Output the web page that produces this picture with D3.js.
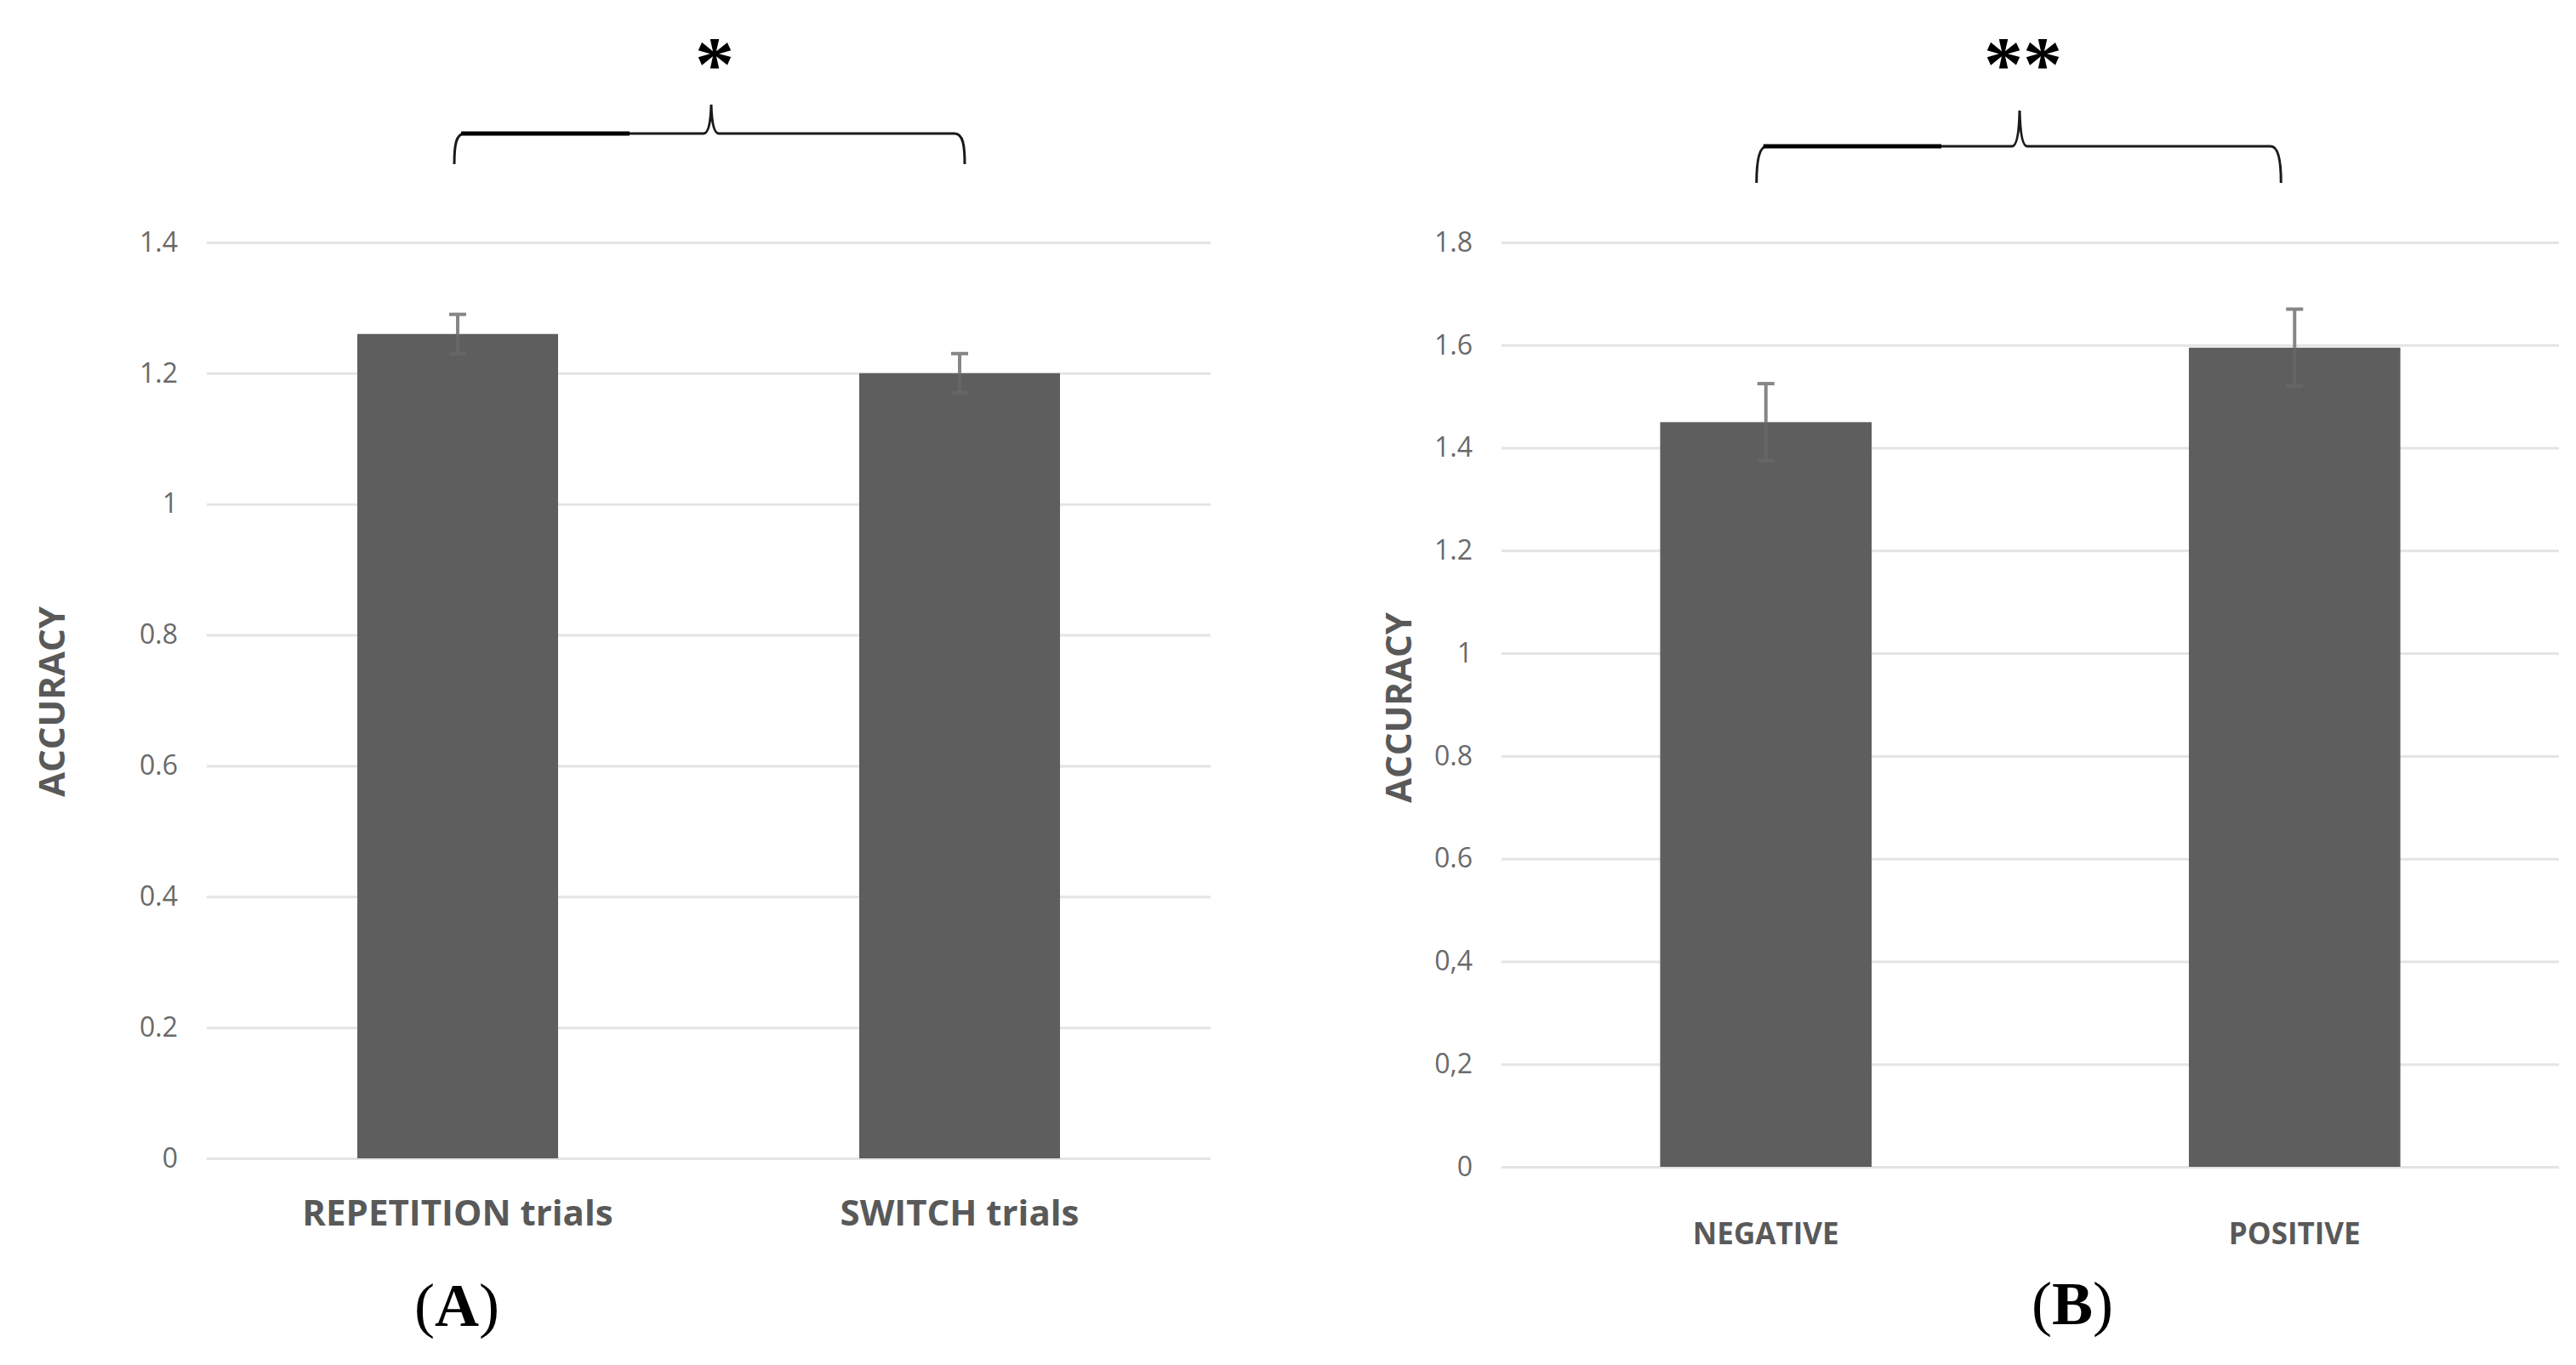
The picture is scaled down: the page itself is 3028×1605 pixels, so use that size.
<!DOCTYPE html>
<html>
<head>
<meta charset="utf-8">
<script src="https://cdn.jsdelivr.net/npm/d3@7/dist/d3.min.js"></script>
<style>
  html, body { margin: 0; padding: 0; background: #ffffff; }
  svg { display: block; }
</style>
</head>
<body>
<script>
// ---------------- data ----------------
const categoriesA = ["REPETITION trials", "SWITCH trials"];
const valuesA = [1.26, 1.20];
const errorsA = [0.03, 0.03];
const ticksA = [0, 0.2, 0.4, 0.6, 0.8, 1, 1.2, 1.4];
const tickLabelsA = ["0", "0.2", "0.4", "0.6", "0.8", "1", "1.2", "1.4"];

const categoriesB = ["NEGATIVE", "POSITIVE"];
const valuesB = [1.45, 1.595];
const errorsB = [0.075, 0.075];
const ticksB = [0, 0.2, 0.4, 0.6, 0.8, 1, 1.2, 1.4, 1.6, 1.8];
const tickLabelsB = ["0", "0,2", "0,4", "0.6", "0.8", "1", "1.2", "1.4", "1.6", "1.8"];

const yTitle = "ACCURACY";
const panelLetters = ["A", "B"];
const significance = ["*", "**"];

// ---------------- layout ----------------
const W = 3028, H = 1605;
const svg = d3.select("body").append("svg").attr("width", W).attr("height", H)
  .attr("viewBox", `0 0 ${W} ${H}`);
svg.append("rect").attr("width", W).attr("height", H).attr("fill", "#ffffff");

const panels = [
  { cats: categoriesA, vals: valuesA, errs: errorsA, ticks: ticksA, labels: tickLabelsA,
    x0: 243, x1: 1423, yBottom: 1362, yTop: 285, yMax: 1.4,
    catFont: 42, catBase: 1441, titleX: 59, titleY: 825,
    letter: panelLetters[0], letterX: 537, letterY: 1559,
    sig: significance[0], sigX: 840,
    brace: { l: -4, r: 6, mid: 836, line: 157, end: 193, tip: 123, thick: 740 } },
  { cats: categoriesB, vals: valuesB, errs: errorsB, ticks: ticksB, labels: tickLabelsB,
    x0: 1765, x1: 3008, yBottom: 1372, yTop: 285, yMax: 1.8,
    catFont: 35, catBase: 1463, titleX: 1642, titleY: 832,
    letter: panelLetters[1], letterX: 2436, letterY: 1557,
    sig: significance[1], sigX: 2378,
    brace: { l: -11, r: -16, mid: 2374, line: 172, end: 215, tip: 130, thick: 2282 } }
];

panels.forEach(p => {
  const g = svg.append("g");
  const x = d3.scaleBand().domain(p.cats).range([p.x0, p.x1]).paddingInner(0.6).paddingOuter(0.3);
  const y = d3.scaleLinear().domain([0, p.yMax]).range([p.yBottom, p.yTop]);

  // gridlines + tick labels
  const axis = d3.axisLeft(y).tickValues(p.ticks)
    .tickFormat((d, i) => p.labels[i])
    .tickSize(-(p.x1 - p.x0)).tickPadding(34);
  const ag = g.append("g").attr("transform", `translate(${p.x0},0)`).call(axis);
  ag.select(".domain").remove();
  ag.selectAll(".tick line").attr("stroke", "#e4e4e4").attr("stroke-width", 3);
  ag.selectAll(".tick text")
    .attr("fill", "#6a6a6a")
    .style("font-family", "'Open Sans', sans-serif")
    .style("font-size", "32px");

  // bars
  g.selectAll("rect.bar").data(p.cats).enter().append("rect")
    .attr("class", "bar")
    .attr("x", d => x(d))
    .attr("width", x.bandwidth())
    .attr("y", (d, i) => y(p.vals[i]))
    .attr("height", (d, i) => y(0) - y(p.vals[i]))
    .attr("fill", "#5e5e5e");

  // error bars
  const eb = g.selectAll("g.err").data(p.cats).enter().append("g").attr("class", "err")
    .attr("stroke-width", 4);
  const cx = d => x(d) + x.bandwidth() / 2;
  // upper half (above bar top)
  eb.append("line")
    .attr("stroke", "#868686")
    .attr("x1", cx).attr("x2", cx)
    .attr("y1", (d, i) => y(p.vals[i] + p.errs[i]))
    .attr("y2", (d, i) => y(p.vals[i]));
  eb.append("line")
    .attr("stroke", "#868686")
    .attr("x1", d => cx(d) - 10).attr("x2", d => cx(d) + 10)
    .attr("y1", (d, i) => y(p.vals[i] + p.errs[i]))
    .attr("y2", (d, i) => y(p.vals[i] + p.errs[i]));
  // lower half (inside the bar, nearly hidden)
  eb.append("line")
    .attr("stroke", "#666666")
    .attr("x1", cx).attr("x2", cx)
    .attr("y1", (d, i) => y(p.vals[i]))
    .attr("y2", (d, i) => y(p.vals[i] - p.errs[i]));
  eb.append("line")
    .attr("stroke", "#666666")
    .attr("x1", d => cx(d) - 10).attr("x2", d => cx(d) + 10)
    .attr("y1", (d, i) => y(p.vals[i] - p.errs[i]))
    .attr("y2", (d, i) => y(p.vals[i] - p.errs[i]));

  // category labels
  g.selectAll("text.cat").data(p.cats).enter().append("text")
    .attr("class", "cat")
    .attr("x", cx)
    .attr("y", p.catBase)
    .attr("text-anchor", "middle")
    .attr("fill", "#595959")
    .style("font-family", "'Open Sans', sans-serif")
    .style("font-weight", "700")
    .style("font-size", p.catFont + "px")
    .text(d => d);

  // y title
  g.append("text")
    .attr("transform", `translate(${p.titleX},${p.titleY}) rotate(-90)`)
    .attr("text-anchor", "middle")
    .attr("dominant-baseline", "central")
    .attr("fill", "#595959")
    .style("font-family", "'Open Sans', sans-serif")
    .style("font-weight", "700")
    .style("font-size", "42px")
    .text(yTitle);

  // panel letter
  const lt = g.append("text")
    .attr("x", p.letterX).attr("y", p.letterY)
    .attr("text-anchor", "middle")
    .attr("fill", "#000")
    .style("font-family", "'Liberation Serif', 'Times New Roman', serif")
    .style("font-size", "72px");
  lt.append("tspan").text("(");
  lt.append("tspan").style("font-weight", "700").text(p.letter);
  lt.append("tspan").text(")");

  // brace annotation
  const b = p.brace;
  const xl = cx(p.cats[0]) + b.l, xr = cx(p.cats[1]) + b.r, xm = b.mid;
  const path = `M${xl},${b.end} C${xl},${b.end - 22} ${xl + 2},${b.line} ${xl + 12},${b.line}
    L${xm - 9},${b.line} Q${xm - 1},${b.line} ${xm},${b.tip} Q${xm + 1},${b.line} ${xm + 9},${b.line}
    L${xr - 12},${b.line} C${xr - 2},${b.line} ${xr},${b.end - 22} ${xr},${b.end}`;
  g.append("path").attr("d", path).attr("fill", "none").attr("stroke", "#1a1a1a").attr("stroke-width", 3);
  g.append("line").attr("x1", xl + 8).attr("x2", b.thick).attr("y1", b.line).attr("y2", b.line)
    .attr("stroke", "#000").attr("stroke-width", 5);

  // significance stars
  g.append("text")
    .attr("x", p.sigX).attr("y", 106)
    .attr("text-anchor", "middle")
    .attr("fill", "#000")
    .style("font-family", "'Liberation Serif', 'Times New Roman', serif")
    .style("font-weight", "700")
    .style("font-size", "92px")
    .text(p.sig);
});
</script>
</body>
</html>
